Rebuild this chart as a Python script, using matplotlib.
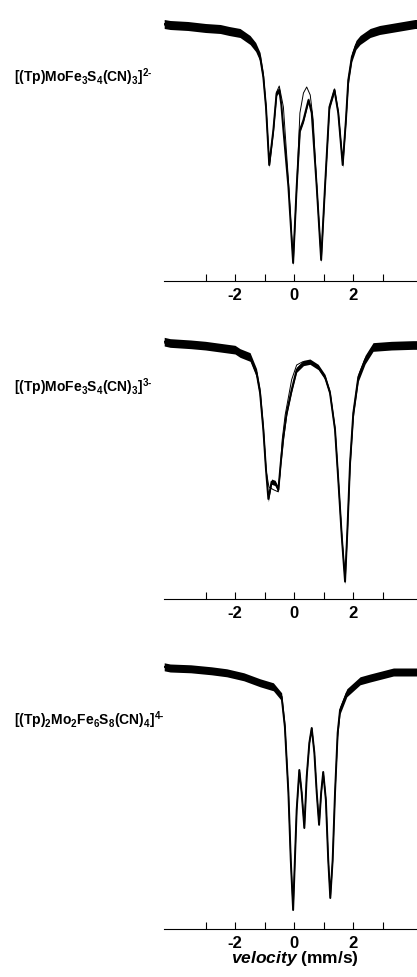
import numpy as np
import matplotlib
matplotlib.use("Agg")
import matplotlib.pyplot as plt

plt.rcParams['font.family'] = ['Liberation Sans', 'DejaVu Sans']
plt.rcParams['mathtext.fontset'] = 'custom'
plt.rcParams['mathtext.rm'] = 'Liberation Sans:bold'
plt.rcParams['mathtext.bf'] = 'Liberation Sans:bold'
plt.rcParams['mathtext.it'] = 'Liberation Sans:bold:italic'
plt.rcParams['mathtext.default'] = 'regular'

# relative transmission (%), one spectrum per panel
labels = [r'[(Tp)MoFe$_3$S$_4$(CN)$_3$]$^{2\text{-}}$',
          r'[(Tp)MoFe$_3$S$_4$(CN)$_3$]$^{3\text{-}}$',
          r'[(Tp)$_2$Mo$_2$Fe$_6$S$_8$(CN)$_4$]$^{4\text{-}}$']

v1 = [-4.4, -4.2, -3.6, -3.0, -2.5, -2.2, -1.83, -1.49, -1.30, -1.15, -1.04, -0.95, -0.84,
      -0.76, -0.70, -0.59, -0.50, -0.43, -0.36, -0.19, -0.03, 0.09, 0.20, 0.32, 0.49, 0.60,
      0.77, 0.92, 1.05, 1.20, 1.37, 1.50, 1.65, 1.76, 1.84, 1.96, 2.10, 2.24, 2.58, 2.90,
      3.50, 4.10, 4.20]
t1 = [100.02, 100.00, 99.98, 99.94, 99.92, 99.88, 99.84, 99.70, 99.56, 99.36, 98.96, 98.36, 97.20,
      97.60, 97.90, 98.64, 98.70, 98.40, 97.90, 96.76, 95.24, 96.76, 97.90, 98.10, 98.50, 98.24,
      96.76, 95.30, 96.76, 98.36, 98.70, 98.24, 97.20, 98.10, 98.90, 99.36, 99.60, 99.70, 99.84, 99.90,
      99.96, 100.02, 100.02]
fv1 = [-4.4, -3.0, -2.2, -1.83, -1.49, -1.30, -1.15, -1.04, -0.95, -0.84, -0.70, -0.59, -0.50,
       -0.36, -0.19, -0.03, 0.09, 0.20, 0.32, 0.43, 0.55, 0.65, 0.77, 0.92, 1.05, 1.20,
       1.37, 1.50, 1.65, 1.76, 1.84, 1.96, 2.10, 2.24, 2.58, 3.50, 4.20]
ft1 = [100.00, 99.94, 99.88, 99.84, 99.70, 99.56, 99.36, 98.96, 98.36, 97.20, 97.90, 98.66, 98.78,
       98.36, 96.90, 95.26, 96.76, 98.24, 98.64, 98.76, 98.60, 98.10, 96.76, 95.32, 96.76, 98.36,
       98.72, 98.24, 97.22, 98.10, 98.90, 99.36, 99.60, 99.70, 99.84, 99.96, 100.00]

v2 = [-4.4, -4.2, -3.5, -3.0, -2.5, -2.0, -1.83, -1.49, -1.27, -1.15, -1.04, -0.95,
      -0.87, -0.76, -0.64, -0.53, -0.45, -0.36, -0.25, -0.08, 0.09, 0.32, 0.54, 0.82,
      1.05, 1.22, 1.39, 1.50, 1.62, 1.73, 1.81, 1.90, 2.01, 2.18, 2.41, 2.68, 3.30,
      4.03, 4.20]
t2 = [100.02, 100.00, 99.98, 99.96, 99.93, 99.90, 99.85, 99.79, 99.55, 99.25, 98.70, 98.10,
      97.66, 97.92, 97.90, 97.80, 98.20, 98.59, 98.95, 99.30, 99.60, 99.70, 99.72, 99.64,
      99.49, 99.25, 98.70, 97.95, 97.09, 96.42, 97.20, 98.20, 98.95, 99.49, 99.75, 99.94, 99.96,
      99.97, 99.97]
fv2 = [-4.4, -3.0, -2.0, -1.49, -1.27, -1.15, -1.04, -0.95, -0.85, -0.70, -0.55, -0.48,
       -0.40, -0.30, -0.08, 0.09, 0.30, 0.54, 0.82, 1.05, 1.22, 1.39, 1.50, 1.62, 1.73,
       1.81, 1.90, 2.01, 2.18, 2.41, 2.68, 4.20]
ft2 = [100.00, 99.96, 99.90, 99.79, 99.55, 99.25, 98.70, 98.10, 97.84, 97.80, 97.77, 98.02,
       98.55, 98.92, 99.45, 99.67, 99.72, 99.72, 99.64, 99.49, 99.25, 98.70, 97.95, 97.09, 96.45,
       97.20, 98.20, 98.95, 99.49, 99.75, 99.94, 99.97]

v3 = [-4.4, -4.2, -3.5, -2.8, -2.28, -1.7, -1.15, -0.70, -0.42, -0.31, -0.19, -0.11,
      -0.03, 0.03, 0.09, 0.18, 0.26, 0.35, 0.43, 0.52, 0.60, 0.69, 0.77, 0.85, 0.92,
      0.99, 1.08, 1.16, 1.23, 1.31, 1.39, 1.48, 1.56, 1.79, 2.24, 2.58, 3.37, 4.20]
t3 = [100.08, 100.05, 100.03, 99.98, 99.93, 99.83, 99.68, 99.58, 99.33, 98.58, 96.93, 95.25,
      94.00, 95.25, 96.50, 97.50, 96.93, 96.05, 97.33, 98.18, 98.55, 97.93, 96.93, 96.13, 96.93,
      97.45, 96.75, 95.25, 94.30, 95.25, 96.93, 98.43, 99.00, 99.43, 99.73, 99.80, 99.95, 99.95]
fv3 = v3
ft3 = t3

# half height of the noise band: in the flat wings, and between the outer lines
noise_wing = [0.09, 0.065, 0.10]
noise_core = [0.05, 0.04, 0.025]
core_range = [(-1.0, 1.8), (-1.0, 1.9), (-0.3, 1.45)]

velocity = [v1, v2, v3]
trans = [t1, t2, t3]
fit_v = [fv1, fv2, fv3]
fit_t = [ft1, ft2, ft3]

W, H = 417, 977
fig = plt.figure(figsize=(W / 100, H / 100), dpi=100)

# pixel geometry: (axis line y, top y), y limits, label y
panels = [(281, 0, (94.88, 100.50), 77),
          (599, 318, (96.16, 100.375), 387),
          (929, 648, (93.525, 100.55), 720)]

x0 = 164
for i, (ybot, ytop, ylim, ylab) in enumerate(panels):
    ax = fig.add_axes([x0 / W, 1 - ybot / H, 1 - x0 / W, (ybot - ytop) / H])
    v = np.array(velocity[i])
    t = np.array(trans[i])
    lo, hi = core_range[i]
    w = np.where((v > lo) & (v < hi), noise_core[i], noise_wing[i])
    ax.fill_between(v, t - w, t + w, color='black', lw=0)
    ax.plot(v, t, color='black', lw=1.4)
    ax.plot(fit_v[i], fit_t[i], color='black', lw=0.7)
    ax.set_xlim(-4.407, 4.169)
    ax.set_ylim(*ylim)
    for s in ['top', 'right', 'left']:
        ax.spines[s].set_visible(False)
    ax.spines['bottom'].set_linewidth(0.8)
    ax.set_yticks([])
    ax.set_xticks([-3, -2, -1, 0, 1, 2, 3])
    ax.set_xticklabels(['', '-2', '', '0', '', '2', ''])
    ax.tick_params(axis='x', direction='in', length=5, width=0.8, pad=5,
                   labelsize=12)
    for lab in ax.get_xticklabels():
        lab.set_fontweight('bold')
    fig.text(14 / W, 1 - ylab / H, labels[i], fontsize=10, fontweight='bold',
             ha='left', va='center')
    if i == 2:
        fig.text(0.5 * (223 + 367) / W, 1 - 959 / H, r'$\mathit{velocity}$ (mm/s)',
                 fontsize=12.5, fontweight='bold', ha='center', va='center')

fig.savefig('out.png', dpi=100)
